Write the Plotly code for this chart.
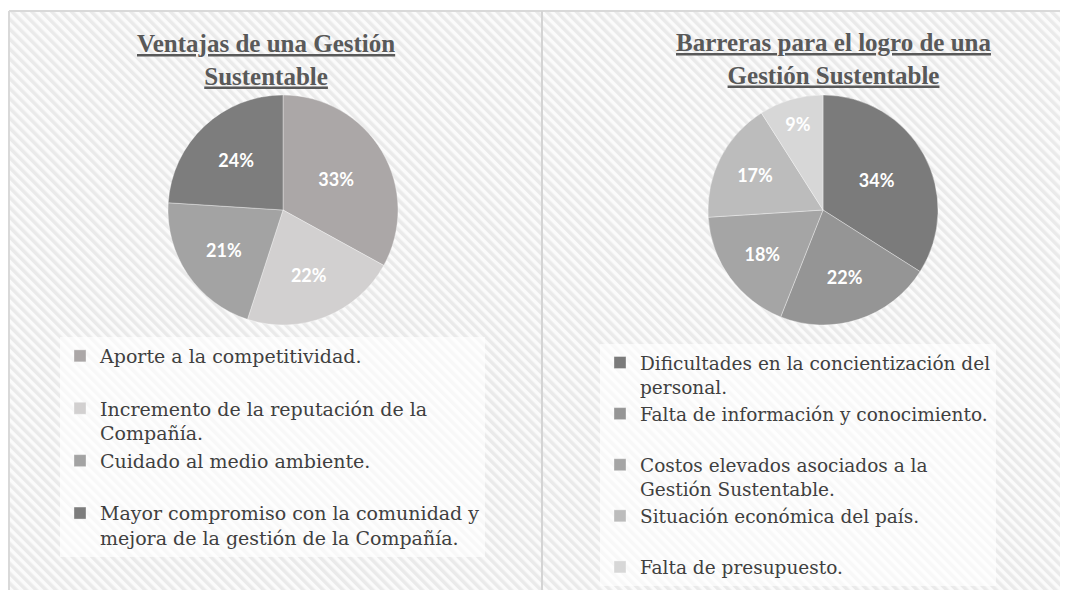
import base64
import plotly.graph_objects as go

# --- data ---
ventajas_labels = [
    "Aporte a la competitividad.",
    "Incremento de la reputación de la<br>Compañía.",
    "Cuidado al medio ambiente.",
    "Mayor compromiso con la comunidad y<br>mejora de la gestión de la Compañía.",
]
ventajas_values = [33, 22, 21, 24]
ventajas_colors = ["#aba7a7", "#d2d0d0", "#a3a3a3", "#7d7d7d"]

barreras_labels = [
    "Dificultades en la concientización del<br>personal.",
    "Falta de información y conocimiento.",
    "Costos elevados asociados a la<br>Gestión Sustentable.",
    "Situación económica del país.",
    "Falta de presupuesto.",
]
barreras_values = [34, 22, 18, 17, 9]
barreras_colors = ["#7b7b7b", "#959595", "#a5a5a5", "#bcbcbc", "#d7d7d7"]

# the page body has an 8px margin, so the figure is drawn 8px in from the window edge
OFF = 8
W, H = 1068 - 2 * OFF, 598 - 2 * OFF


def px_x(x):
    # window pixel -> paper fraction
    return (x - OFF) / W


def px_y(y):
    return 1 - (y - OFF) / H


def two_lines(labels):
    # every legend entry gets two lines so the slots are even, like the original
    out = []
    for i, lab in enumerate(labels):
        if "<br>" not in lab and i < len(labels) - 1:
            lab = lab + "<br>\u00a0"
        out.append(lab)
    return out


# striped background as an inline svg
stripes = (
    '<svg xmlns="http://www.w3.org/2000/svg" width="1051" height="579">'
    '<defs><pattern id="p" width="7" height="7" patternUnits="userSpaceOnUse" '
    'patternTransform="rotate(-45)"><rect width="3.5" height="7" fill="#eaeaea"/></pattern></defs>'
    '<rect width="100%" height="100%" fill="#fbfbfb"/>'
    '<rect width="100%" height="100%" fill="url(#p)"/></svg>'
)
stripes_uri = "data:image/svg+xml;base64," + base64.b64encode(stripes.encode()).decode()

label_font = dict(family="Lato, Open Sans, sans-serif", size=18, color="white", weight="bold")
legend_font = dict(family="DejaVu Serif, serif", size=19, color="#404040")
legend2_font = dict(family="DejaVu Serif, serif", size=18.5, color="#404040")

fig = go.Figure()

fig.add_trace(go.Pie(
    labels=two_lines(ventajas_labels), values=ventajas_values,
    marker=dict(colors=ventajas_colors, line=dict(color="rgba(255,255,255,0.35)", width=1)),
    sort=False, direction="clockwise", rotation=0,
    textinfo="percent", texttemplate="%{percent:.0%}", textposition="inside",
    insidetextorientation="horizontal", insidetextfont=label_font,
    domain=dict(x=[px_x(168), px_x(398)], y=[px_y(325), px_y(95)]),
    legend="legend", hoverinfo="label+percent",
))

fig.add_trace(go.Pie(
    labels=two_lines(barreras_labels), values=barreras_values,
    marker=dict(colors=barreras_colors, line=dict(color="rgba(255,255,255,0.35)", width=1)),
    sort=False, direction="clockwise", rotation=0,
    textinfo="percent", texttemplate="%{percent:.0%}", textposition="inside",
    insidetextorientation="horizontal", insidetextfont=label_font,
    domain=dict(x=[px_x(708), px_x(938)], y=[px_y(325), px_y(95)]),
    legend="legend2", hoverinfo="label+percent",
))

title_font = dict(family="Liberation Serif, Times New Roman, serif", size=25, color="#595959")

fig.update_layout(
    width=W, height=H,
    margin=dict(l=0, r=0, t=0, b=0, autoexpand=False),
    paper_bgcolor="white", plot_bgcolor="white",
    showlegend=True,
    legend=dict(x=px_x(60), y=px_y(337), xanchor="left", yanchor="top",
                font=legend_font, valign="top", bgcolor="rgba(255,255,255,0.65)"),
    legend2=dict(x=px_x(600), y=px_y(344), xanchor="left", yanchor="top",
                 font=legend2_font, valign="top", bgcolor="rgba(255,255,255,0.65)"),
    images=[dict(source=stripes_uri, xref="paper", yref="paper",
                 x=px_x(9), y=px_y(11), sizex=1 - px_x(9), sizey=px_y(11),
                 xanchor="left", yanchor="top", sizing="stretch", layer="below")],
    shapes=[
        dict(type="line", xref="paper", yref="paper", x0=px_x(9), x1=1, y0=px_y(11), y1=px_y(11),
             line=dict(color="#d9d9d9", width=2)),
        dict(type="line", xref="paper", yref="paper", x0=px_x(9), x1=px_x(9), y0=px_y(11), y1=0,
             line=dict(color="#d9d9d9", width=2)),
        dict(type="line", xref="paper", yref="paper", x0=px_x(542), x1=px_x(542), y0=px_y(11), y1=0,
             line=dict(color="#d4d4d4", width=2)),
    ],
    annotations=[
        dict(text="<b><u>Ventajas de una Gestión</u></b><br><b><u>Sustentable</u></b>",
             x=px_x(266), y=px_y(60), xref="paper", yref="paper",
             xanchor="center", yanchor="middle", showarrow=False, font=title_font),
        dict(text="<b><u>Barreras para el logro de una</u></b><br><b><u>Gestión Sustentable</u></b>",
             x=px_x(834), y=px_y(59), xref="paper", yref="paper",
             xanchor="center", yanchor="middle", showarrow=False, font=title_font),
    ],
)

fig.write_html("out.html")
